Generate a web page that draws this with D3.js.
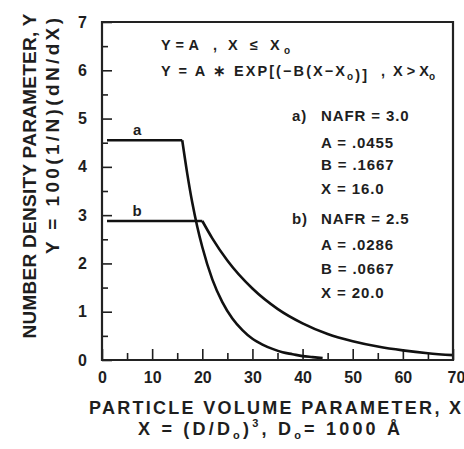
<!DOCTYPE html>
<html>
<head>
<meta charset="utf-8">
<script src="https://cdn.jsdelivr.net/npm/d3@7"></script>
<style>
  html, body { margin: 0; padding: 0; background: #fff; }
  svg { display: block; font-family: "Liberation Sans", Arial, sans-serif; font-weight: bold; }
  text { fill: #1e1e1e; }
</style>
</head>
<body>
<script>
// values
const xDomain = [0, 70];
const yDomain = [0, 7];
const xTicks = [0, 10, 20, 30, 40, 50, 60, 70];
const xMinor = [5, 15, 25, 35, 45, 55, 65];
const yTicks = [0, 1, 2, 3, 4, 5, 6, 7];
const yMinor = [0.5, 1.5, 2.5, 3.5, 4.5, 5.5, 6.5];

// curve a: NAFR = 3.0
const plateauA = [[1, 4.55], [16, 4.55]];
const tailA = [[16, 4.55], [17, 3.86], [18, 3.26], [19, 2.76], [20, 2.34], [22, 1.67], [24, 1.2],
  [26, 0.86], [28, 0.62], [30, 0.44], [32, 0.32], [34, 0.23], [36, 0.16], [38, 0.12],
  [40, 0.08], [42, 0.06], [44, 0.04]];
// curve b: NAFR = 2.5
const plateauB = [[1, 2.88], [20, 2.88]];
const tailB = [[20, 2.88], [22, 2.52], [25, 2.06], [30, 1.48], [35, 1.06], [40, 0.76], [45, 0.54],
  [50, 0.39], [55, 0.28], [60, 0.2], [65, 0.14], [70, 0.1]];

const curveLabels = [
  { name: 'a', x: 7, y: 4.55 },
  { name: 'b', x: 7, y: 2.88 }
];

const paramLines = [
  ['a)', 'NAFR = 3.0'], ['', 'A = .0455'], ['', 'B = .1667'], ['', 'X = 16.0'],
  ['b)', 'NAFR = 2.5'], ['', 'A = .0286'], ['', 'B = .0667'], ['', 'X = 20.0']
];

const W = 464, H = 449;
const margin = { top: 22, right: 11, bottom: 89, left: 102 };
const ink = '#1e1e1e';

const svg = d3.select('body').append('svg')
  .attr('width', W).attr('height', H);

const x = d3.scaleLinear().domain(xDomain).range([margin.left, W - margin.right]);
const y = d3.scaleLinear().domain(yDomain).range([H - margin.bottom, margin.top]);

// axes, ticks pointing into the plot
const gx = svg.append('g').attr('transform', `translate(0,${y(0)})`)
  .call(d3.axisBottom(x).tickValues(xTicks).tickSizeInner(-11).tickSizeOuter(0).tickPadding(12));
svg.append('g').attr('transform', `translate(0,${y(0)})`)
  .call(d3.axisBottom(x).tickValues(xMinor).tickSizeInner(-7).tickSizeOuter(0).tickFormat(''));
const gy = svg.append('g').attr('transform', `translate(${x(0)},0)`)
  .call(d3.axisLeft(y).tickValues(yTicks).tickFormat(d3.format('d'))
    .tickSizeInner(-10).tickSizeOuter(0).tickPadding(15));
svg.append('g').attr('transform', `translate(${x(0)},0)`)
  .call(d3.axisLeft(y).tickValues(yMinor).tickSizeInner(-6).tickSizeOuter(0).tickFormat(''));

svg.selectAll('.domain').remove();
svg.selectAll('.tick line').attr('stroke', ink).attr('stroke-width', 1.6);
svg.selectAll('.tick text')
  .attr('font-size', 16).attr('font-weight', 'bold')
  .attr('font-family', '"Liberation Sans", Arial, sans-serif').attr('fill', ink);
gx.selectAll('.tick text').filter(d => d === 70).attr('dx', 3);

// curves
const flat = d3.line().x(d => x(d[0])).y(d => y(d[1]));
const smooth = d3.line().x(d => x(d[0])).y(d => y(d[1])).curve(d3.curveMonotoneX);
[plateauA, plateauB].forEach(p => svg.append('path').attr('d', flat(p))
  .attr('fill', 'none').attr('stroke', '#111').attr('stroke-width', 2.6));
[tailA, tailB].forEach(p => svg.append('path').attr('d', smooth(p))
  .attr('fill', 'none').attr('stroke', '#111').attr('stroke-width', 2.6).attr('stroke-linejoin', 'round'));

svg.selectAll('.clabel').data(curveLabels).join('text')
  .attr('class', 'clabel')
  .attr('x', d => x(d.x)).attr('y', d => y(d.y) - 5)
  .attr('text-anchor', 'middle').attr('font-size', 15)
  .text(d => d.name);

// model equations
function subO(t, size) {
  t.append('tspan').attr('font-size', size).attr('dy', 4).text('o');
  t.append('tspan').attr('dy', -4).text('');
}
function eqPart(px, py, len, build) {
  const t = svg.append('text').attr('x', px).attr('y', py).attr('font-size', 14.5);
  build(t);
  if (len) t.attr('textLength', len).attr('lengthAdjust', 'spacing');
  return t;
}
eqPart(161, 50, 38, t => t.text('Y = A'));
eqPart(213, 50, 0, t => t.text(','));
eqPart(228, 50, 62, t => { t.append('tspan').text('X ≤ X'); subO(t, 10); });
eqPart(161, 76, 206, t => {
  t.append('tspan').text('Y = A ∗ EXP[(−B(X−X');
  subO(t, 10);
  t.append('tspan').text(')]');
});
eqPart(381, 76, 0, t => t.text(','));
eqPart(393, 76, 0, t => { t.append('tspan').text('X > X'); subO(t, 10); });

// parameter block
const paramY = [115, 142, 164, 188, 218, 244, 268, 292];
const pg = svg.append('g').attr('font-size', 15).attr('letter-spacing', 0.9);
paramLines.forEach((l, i) => {
  pg.append('text').attr('x', 292).attr('y', paramY[i] + 5.5).text(l[0]);
  pg.append('text').attr('x', 321).attr('y', paramY[i] + 5.5).text(l[1]);
});

// axis titles
svg.append('text').attr('x', 275).attr('y', 414)
  .attr('text-anchor', 'middle').attr('font-size', 18)
  .attr('textLength', 372).attr('lengthAdjust', 'spacing')
  .text('PARTICLE VOLUME PARAMETER, X');

const xt2 = svg.append('text').attr('x', 138).attr('y', 435).attr('font-size', 18)
  .attr('textLength', 262).attr('lengthAdjust', 'spacing');
xt2.append('tspan').text('X = (D/D');
xt2.append('tspan').attr('font-size', 11).attr('dy', 4).text('o');
xt2.append('tspan').attr('dy', -4).text(')');
xt2.append('tspan').attr('font-size', 11).attr('dy', -8).text('3');
xt2.append('tspan').attr('dy', 8).text(', D');
xt2.append('tspan').attr('font-size', 11).attr('dy', 4).text('o');
xt2.append('tspan').attr('dy', -4).text('= 1000 Å');

svg.append('text')
  .attr('transform', 'translate(36,176) rotate(-90)')
  .attr('text-anchor', 'middle').attr('font-size', 19)
  .attr('textLength', 325).attr('lengthAdjust', 'spacing')
  .text('NUMBER DENSITY PARAMETER, Y');

svg.append('text')
  .attr('transform', 'translate(59,136) rotate(-90)')
  .attr('text-anchor', 'middle').attr('font-size', 19)
  .attr('textLength', 236).attr('lengthAdjust', 'spacing')
  .text('Y  =  100(1/N)(dN/dX)');

// plot frame, drawn last so it sits on top
const [fx0, fx1] = x.range();
const [fy0, fy1] = y.range();
svg.append('path')
  .attr('d', `M${fx0},${fy1}L${fx1},${fy1}L${fx1},${fy0}L${fx0},${fy0}Z`)
  .attr('fill', 'none').attr('stroke', '#222').attr('stroke-width', 2.2)
  .attr('stroke-linejoin', 'miter');
</script>
</body>
</html>
